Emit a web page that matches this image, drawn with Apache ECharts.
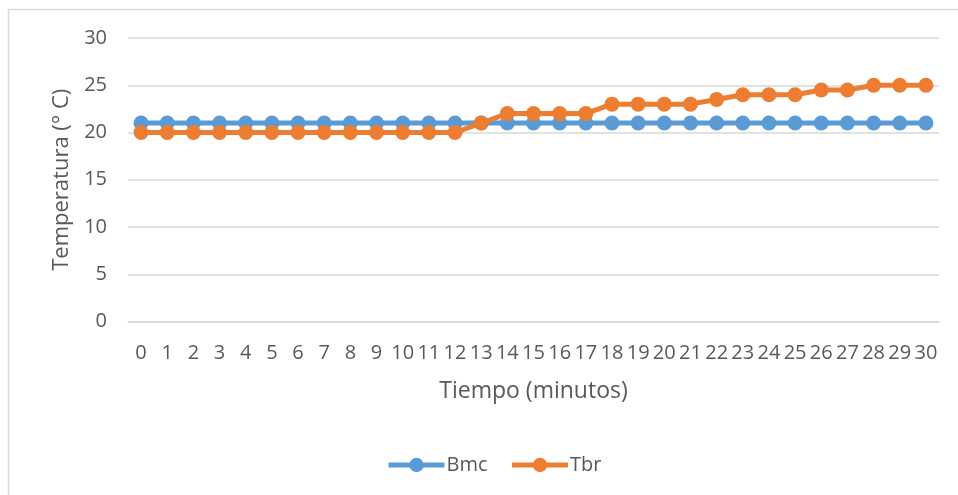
<!DOCTYPE html>
<html>
<head>
<meta charset="utf-8">
<script src="https://cdn.jsdelivr.net/npm/echarts@6/dist/echarts.min.js"></script>
<style>html,body{margin:0;padding:0;background:#fff}#c{width:958px;height:495px}</style>
</head>
<body>
<div id="c"></div>
<script>
const categories = ['0','1','2','3','4','5','6','7','8','9','10','11','12','13','14','15','16','17','18','19','20','21','22','23','24','25','26','27','28','29','30'];
const bmc = [21,21,21,21,21,21,21,21,21,21,21,21,21,21,21,21,21,21,21,21,21,21,21,21,21,21,21,21,21,21,21];
const tbr = [20,20,20,20,20,20,20,20,20,20,20,20,20,21,22,22,22,22,23,23,23,23,23.5,24,24,24,24.5,24.5,25,25,25];
const yTicks = {min: 0, max: 30, interval: 5};
const seriesNames = ['Bmc', 'Tbr'];
const xTitle = 'Tiempo (minutos)';
const yTitle = 'Temperatura (° C)';

const font = '"Open Sans", sans-serif';
const txt = '#595959';
const chart = echarts.init(document.getElementById('c'), null, {renderer: 'canvas'});
chart.setOption({
  animation: false,
  backgroundColor: '#fff',
  textStyle: {fontFamily: font},
  graphic: [{
    type: 'rect', silent: true,
    shape: {x: 8.5, y: 9.5, width: 1100, height: 1100},
    style: {fill: 'none', stroke: '#d9d9d9', lineWidth: 1.5}
  }],
  grid: {left: 128, right: 19, top: 38, bottom: 173.5, containLabel: false, outerBoundsMode: 'none'},
  legend: {
    data: seriesNames,
    left: 381, top: 450,
    itemWidth: 56, itemHeight: 18, itemGap: 22,
    lineStyle: {width: 5},
    textStyle: {color: txt, fontSize: 20, fontFamily: font, padding: [0,0,0,-3]}
  },
  xAxis: {
    type: 'category', data: categories, boundaryGap: true,
    name: xTitle, nameLocation: 'middle', nameGap: 58,
    nameTextStyle: {color: txt, fontSize: 23, fontFamily: font},
    axisLine: {show: true, lineStyle: {color: '#d9d9d9', width: 1.5}},
    axisTick: {show: false},
    axisLabel: {interval: 0, color: txt, fontSize: 20, fontFamily: font, margin: 22}
  },
  yAxis: {
    type: 'value', min: yTicks.min, max: yTicks.max, interval: yTicks.interval,
    name: yTitle, nameLocation: 'middle', nameGap: 55,
    nameTextStyle: {color: txt, fontSize: 22, fontFamily: font},
    axisLine: {show: false}, axisTick: {show: false},
    splitLine: {lineStyle: {color: '#d9d9d9', width: 1.5}},
    axisLabel: {color: txt, fontSize: 20, fontFamily: font, margin: 21}
  },
  series: [
    {name: seriesNames[0], type: 'line', data: bmc, color: '#5B9BD5',
     symbol: 'circle', symbolSize: 15, lineStyle: {width: 5}, itemStyle: {color: '#5B9BD5'}},
    {name: seriesNames[1], type: 'line', data: tbr, color: '#ED7D31',
     symbol: 'circle', symbolSize: 15, lineStyle: {width: 5}, itemStyle: {color: '#ED7D31'}}
  ]
});
</script>
</body>
</html>
